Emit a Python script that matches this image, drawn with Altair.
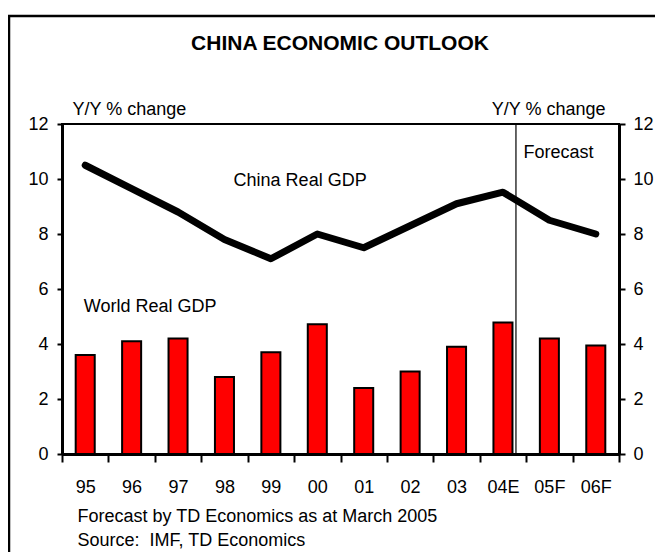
import altair as alt
import pandas as pd

# ---- data ----
years = ["95", "96", "97", "98", "99", "00", "01", "02", "03", "04E", "05F", "06F"]
china_gdp = [10.5, 9.65, 8.8, 7.8, 7.1, 8.0, 7.5, 8.3, 9.1, 9.52, 8.5, 8.0]
world_gdp = [3.6, 4.1, 4.2, 2.8, 3.7, 4.72, 2.4, 3.0, 3.9, 4.78, 4.2, 3.95]
forecast_start = ["04E"]
y_ticks = [0, 2, 4, 6, 8, 10, 12]
title_text = "CHINA ECONOMIC OUTLOOK"
footnotes = ["Forecast by TD Economics as at March 2005", "Source:\u00a0 IMF, TD Economics"]
axis_title = "Y/Y % change"

FONT = "Liberation Sans"
df = pd.DataFrame({"year": years, "china": china_gdp, "world": world_gdp})

x_scale = alt.Scale(domain=years, paddingInner=0, paddingOuter=0)
x_axis = alt.Axis(
    title=footnotes, titleFont=FONT, titleFontSize=18, titleFontWeight="normal",
    titleColor="black", titleAlign="left", titleAnchor="start", titleX=15, titleY=67,
    titleBaseline="alphabetic", titleLineHeight=24, titleAngle=0,
    labelAngle=0, labelFont=FONT, labelFontSize=18, labelColor="black", labelPadding=16,
    tickBand="extent", tickSize=8, tickWidth=2, tickColor="black",
    domainColor="black", domainWidth=3, grid=False,
)
y_scale = alt.Scale(domain=[0, 12], nice=False, zero=True)


def y_axis(orient):
    left = orient == "left"
    return alt.Axis(
        orient=orient, values=y_ticks, grid=False,
        title=axis_title, titleFont=FONT, titleFontSize=18, titleFontWeight="normal",
        titleColor="black", titleAngle=0, titleX=10 if left else -14, titleY=-9.5,
        titleAlign="left" if left else "right", titleBaseline="alphabetic",
        labelFont=FONT, labelFontSize=18, labelColor="black",
        labelPadding=9 if left else 8,
        tickSize=5 if left else 6, tickWidth=2, tickColor="black",
        domainColor="black", domainWidth=3,
    )


X = alt.X("year:N", sort=years, scale=x_scale, axis=x_axis)

bars = alt.Chart(df).mark_bar(
    color="#FF0000", stroke="black", strokeWidth=2, width=alt.RelativeBandSize(0.41)
).encode(x=X, y=alt.Y("world:Q", scale=y_scale, axis=y_axis("left")))

line = alt.Chart(df).mark_line(
    color="black", strokeWidth=7, strokeCap="round", strokeJoin="round"
).encode(x=X, y=alt.Y("china:Q", scale=y_scale, axis=y_axis("right")))

rule = alt.Chart(pd.DataFrame({"year": forecast_start})).mark_rule(
    color="black", strokeWidth=1.2
).encode(x=alt.X("year:N", sort=years, scale=x_scale, axis=x_axis, bandPosition=0.78))


def annot(text, year, val, band, align):
    return alt.Chart(pd.DataFrame({"year": [year], "v": [val], "t": [text]})).mark_text(
        font=FONT, fontSize=18, color="black", align=align, baseline="middle"
    ).encode(
        x=alt.X("year:N", sort=years, scale=x_scale, axis=x_axis, bandPosition=band),
        y=alt.Y("v:Q", scale=y_scale, axis=None),
        text="t:N",
    )


t_china = annot("China Real GDP", "00", 9.91, 0.13, "center")
t_world = annot("World Real GDP", "95", 5.35, 0.47, "left")
t_fc = annot("Forecast", "04E", 10.96, 0.94, "left")

one = alt.Data(values=[{"a": 1}])
frame = alt.Chart(one).mark_rect(
    filled=False, stroke="black", strokeWidth=2.5
).encode(x=alt.value(-53), x2=alt.value(610), y=alt.value(-108), y2=alt.value(450))

title = alt.Chart(one).mark_text(
    text=title_text, font=FONT, fontSize=21, fontWeight="bold", color="black",
    align="center", baseline="alphabetic"
).encode(x=alt.value(278), y=alt.value(-74))

chart = alt.layer(bars, line, rule, t_china, t_world, t_fc, frame, title).resolve_axis(
    y="independent"
).properties(
    width=557, height=330,
    padding={"left": 54, "top": 116, "right": 36, "bottom": 98},
    autosize=alt.AutoSizeParams(type="none"),
    background="white",
).configure_view(stroke="black", strokeWidth=2)

chart.save("out.html", embed_options={"renderer": "svg", "actions": False})
